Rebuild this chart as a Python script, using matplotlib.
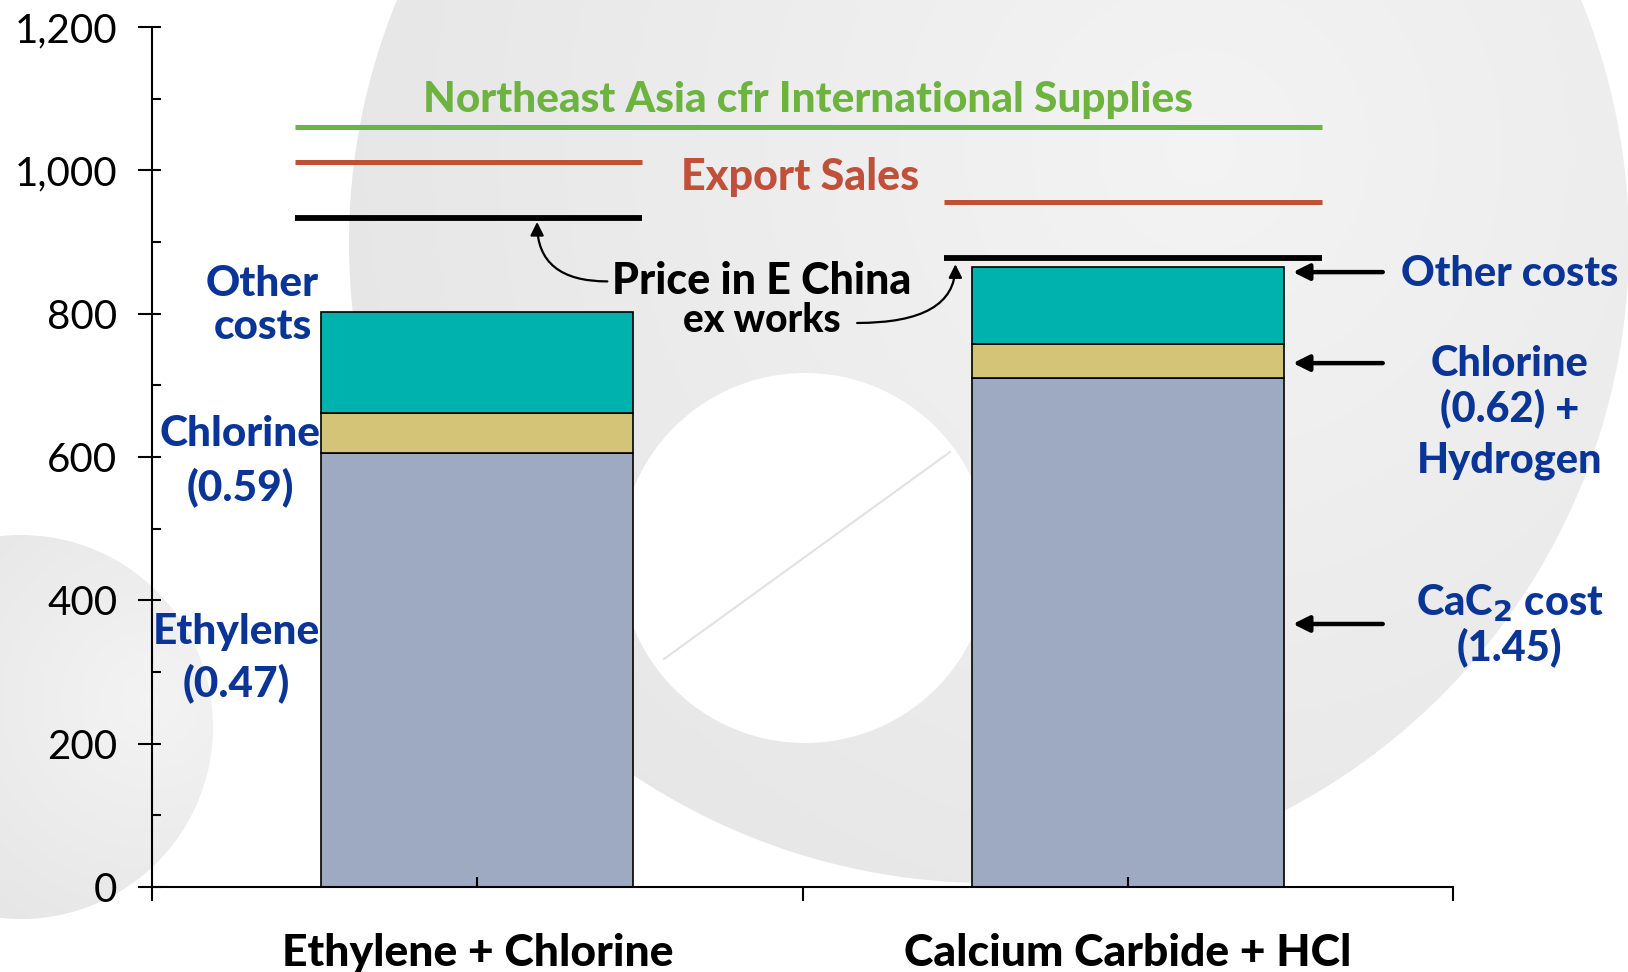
import matplotlib
matplotlib.use('Agg')
import matplotlib.pyplot as plt
from matplotlib.patches import Circle
from matplotlib.ticker import MultipleLocator, FuncFormatter
import numpy as np

# data ($/t)
categories    = ['Ethylene + Chlorine', 'Calcium Carbide + HCl']
feedstock     = [605, 710]   # ethylene (0.47) / CaC2 (1.45)
chlorine      = [56, 48]
other_costs   = [142, 107]
nea_cfr       = 1060         # Northeast Asia cfr international supplies
export_sales  = [1011, 956]
price_e_china = [934, 877]   # ex works

C_FEED  = '#9ea9c2'
C_CL    = '#d4c478'
C_OTHER = '#00b2ad'
C_GREEN = '#6db33f'
C_RED   = '#c0503a'
C_BLUE  = '#0a3597'

plt.rcParams['font.family'] = ['Lato', 'DejaVu Sans']
HEAVY = 'black'

fig = plt.figure(figsize=(16.28, 9.72), dpi=100)

# faint watermark in the background (shaded discs)
bg = fig.add_axes([0, 0, 1, 1], zorder=0)
bg.set_xlim(0, 1628)
bg.set_ylim(972, 0)
bg.axis('off')
gx, gy = np.meshgrid(np.arange(1628), np.arange(972))

def shaded_disc(cx, cy, r, lx, ly, light=0.955, dark=0.05, scale=850):
    d = np.hypot(gx - lx, gy - ly) / scale
    v = np.clip(light - dark * d, 0.86, 1.0)
    img = bg.imshow(np.dstack([v, v, v]), extent=(0, 1628, 972, 0),
                    interpolation='bilinear', zorder=1)
    img.set_clip_path(Circle((cx, cy), r, transform=bg.transData))

shaded_disc(989, 243, 640, 1200, 150)
bg.add_patch(Circle((805, 558), 185, color='white', lw=0, zorder=2))
bg.plot([664, 950], [659, 452], color='#e2e2e2', lw=1.5, zorder=3)
shaded_disc(21, 727, 192, 150, 700, light=0.955, dark=0.05, scale=250)
bg.set_xlim(0, 1628)
bg.set_ylim(972, 0)

ax = fig.add_axes([152/1628, 1 - 887/972, 1301/1628, 860/972], zorder=1)
ax.patch.set_alpha(0)

x = np.array([0.5, 1.5])
w = 0.48
feed = np.array(feedstock)
cl = np.array(chlorine)
ax.bar(x, feed, w, color=C_FEED, edgecolor='black', lw=1.2)
ax.bar(x, cl, w, bottom=feed, color=C_CL, edgecolor='black', lw=1.2)
ax.bar(x, other_costs, w, bottom=feed + cl, color=C_OTHER, edgecolor='black', lw=1.2)

# price lines
ax.hlines(nea_cfr, 0.22, 1.798, color=C_GREEN, lw=3.6)
ax.hlines(export_sales[0], 0.22, 0.753, color=C_RED, lw=3.6)
ax.hlines(export_sales[1], 1.218, 1.798, color=C_RED, lw=3.6)
ax.hlines(price_e_china[0], 0.22, 0.753, color='black', lw=4.2)
ax.hlines(price_e_china[1], 1.218, 1.798, color='black', lw=4.2)

bold = dict(fontweight=HEAVY, ha='center', va='baseline')
ax.text(1.008, 1081, 'Northeast Asia cfr International Supplies', color=C_GREEN, fontsize=30.5, **bold)
ax.text(0.996, 972, 'Export Sales', color=C_RED, fontsize=31, **bold)
ax.text(0.938, 827, 'Price in E China', color='black', fontsize=31, **bold)
ax.text(0.938, 775, 'ex works', color='black', fontsize=28, **bold)

curved = dict(arrowstyle='-|>', color='black', lw=1.6, mutation_scale=20,
              shrinkA=0, shrinkB=0)
ax.annotate('', xy=(0.592, 928), xytext=(0.700, 845),
            arrowprops=dict(connectionstyle='angle3,angleA=0,angleB=90', **curved))
ax.annotate('', xy=(1.235, 869), xytext=(1.084, 787),
            arrowprops=dict(connectionstyle='angle3,angleA=0,angleB=90', **curved))

# labels left of first bar
for txt, xx, yy in [('Other', 0.170, 824.5), ('costs', 0.170, 765),
                    ('Chlorine', 0.135, 615.7), ('(0.59)', 0.135, 540.4),
                    ('Ethylene', 0.130, 339), ('(0.47)', 0.130, 266.5)]:
    ax.text(xx, yy, txt, color=C_BLUE, fontsize=30.5, **bold)

# labels right of second bar
for txt, yy in [('Other costs', 839), ('Chlorine', 712.7), ('(0.62) +', 650.5),
                ('Hydrogen', 578), ('CaC$_\\mathbf{2}$ cost', 379.5), ('(1.45)', 317)]:
    ax.text(2.087, yy, txt, color=C_BLUE, fontsize=30, **bold)

straight = dict(arrowstyle='-|>', color='black', lw=3.2, mutation_scale=24,
                shrinkA=0, shrinkB=0)
for yy in [858, 731, 367]:
    ax.annotate('', xy=(1.754, yy), xytext=(1.892, yy), arrowprops=straight)

# axes
ax.set_xlim(0, 2)
ax.set_ylim(0, 1200)
for s in ['top', 'right']:
    ax.spines[s].set_visible(False)
for s in ['left', 'bottom']:
    ax.spines[s].set_linewidth(1.5)

ax.yaxis.set_major_locator(MultipleLocator(200))
ax.yaxis.set_minor_locator(MultipleLocator(100))
ax.yaxis.remove_overlapping_locs = False
ax.yaxis.set_major_formatter(FuncFormatter(lambda v, p: f'{v:,.0f}'))
ax.tick_params(axis='y', which='major', direction='out', length=10, width=1.5,
               pad=15, labelsize=29)
ax.tick_params(axis='y', which='minor', direction='in', length=6.5, width=1.5)

ax.set_xticks([0, 1, 2])
ax.set_xticklabels([])
ax.set_xticks(x, minor=True)
ax.set_xticklabels(categories, minor=True, fontweight=HEAVY, fontsize=32)
ax.xaxis.remove_overlapping_locs = False
ax.tick_params(axis='x', which='major', direction='out', length=10, width=1.5)
ax.tick_params(axis='x', which='minor', direction='in', length=7, width=1.5, pad=33)

fig.savefig('out.png', dpi=100)
